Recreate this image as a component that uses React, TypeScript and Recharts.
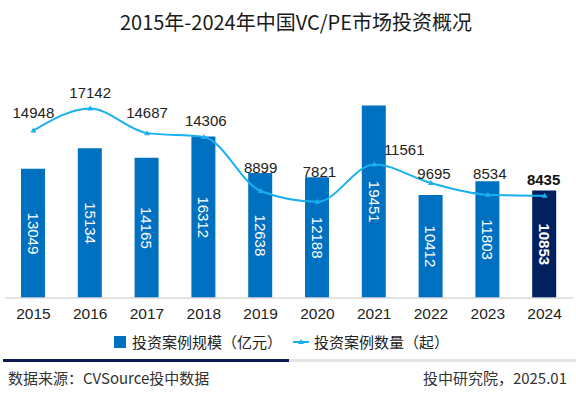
import { Bar, Cell, ComposedChart, LabelList, Legend, Line, XAxis, YAxis } from "recharts";

const years = ["2015", "2016", "2017", "2018", "2019", "2020", "2021", "2022", "2023", "2024"];
const amounts = [13049, 15134, 14165, 16312, 12638, 12188, 19451, 10412, 11803, 10853];
const counts = [14948, 17142, 14687, 14306, 8899, 7821, 11561, 9695, 8534, 8435];

// manual nudges for the count labels [dx, distance above point]
const countLabelShift = [
  [0, 18], [0, 16], [0, 20], [2, 16], [0, 23],
  [2, 30], [30, 15], [3, 9], [2, 21], [-1, 16]
];

const rows = years.map((year, i) => ({ year, amount: amounts[i], count: counts[i] }));

const BAR_BLUE = "#0070C0";
const BAR_NAVY = "#002060";
const LINE_BLUE = "#1AAFEF";
const LAST = years.length - 1;
const NUM_FONT = "'Liberation Sans', Arial, sans-serif";
const CJK_FONT = "'Noto Sans CJK SC', 'Noto Sans', sans-serif";

function BarValueLabel(props: any) {
  const { x, y, width, height, value, index } = props;
  const cx = x + width / 2;
  const cy = y + height / 2;
  return (
    <text
      x={cx}
      y={cy}
      dy="0.35em"
      textAnchor="middle"
      transform={`rotate(90, ${cx}, ${cy})`}
      fill="#fff"
      fontSize={15}
      fontFamily={NUM_FONT}
      fontWeight={index === LAST ? 700 : 400}
    >
      {value}
    </text>
  );
}

function CountLabel(props: any) {
  const { x, y, value, index } = props;
  const [dx, up] = countLabelShift[index] ?? [0, 16];
  return (
    <text
      x={x + dx}
      y={y - up}
      dy="0.35em"
      textAnchor="middle"
      fill={index === LAST ? "#111" : "#222"}
      fontSize={15}
      fontFamily={NUM_FONT}
      fontWeight={index === LAST ? 700 : 400}
    >
      {value}
    </text>
  );
}

function TriangleDot(props: any) {
  const { cx, cy, index } = props;
  return (
    <path
      key={`tri-${index}`}
      d={`M${cx},${cy - 3} L${cx + 3},${cy + 2} L${cx - 3},${cy + 2} Z`}
      fill={LINE_BLUE}
    />
  );
}

function LegendBox() {
  return (
    <div style={{ display: "flex", alignItems: "center", fontFamily: CJK_FONT, fontSize: 15, color: "#222", lineHeight: "22px" }}>
      <span style={{ width: 12, height: 12, background: BAR_BLUE, display: "inline-block", marginRight: 6 }} />
      <span>投资案例规模（亿元）</span>
      <svg width={16} height={10} style={{ marginLeft: 11, marginRight: 5 }}>
        <line x1={0} y1={5} x2={16} y2={5} stroke={LINE_BLUE} strokeWidth={2} />
        <path d="M8,2 L11,7 L5,7 Z" fill={LINE_BLUE} />
      </svg>
      <span>投资案例数量（起）</span>
    </div>
  );
}

export default function App() {
  return (
    <div style={{ position: "absolute", left: 0, top: 0, width: 576, height: 394, background: "#fff", overflow: "hidden" }}>
      <div
        style={{
          position: "absolute",
          top: 9,
          left: 8,
          width: 576,
          textAlign: "center",
          fontFamily: CJK_FONT,
          fontSize: 20,
          lineHeight: "26px",
          color: "#1a1a1a"
        }}
      >
        2015年-2024年中国VC/PE市场投资概况
      </div>

      <ComposedChart width={576} height={394} data={rows} margin={{ top: 100, right: 3, left: 5, bottom: 66 }}>
        <XAxis
          dataKey="year"
          height={30}
          tickLine={false}
          tickSize={0}
          tickMargin={10}
          axisLine={{ stroke: "#D9D9D9", strokeWidth: 1.5 }}
          tick={{ fill: "#222", fontSize: 15.5, fontFamily: NUM_FONT }}
        />
        <YAxis yAxisId="amount" hide domain={[0, 20000]} />
        <YAxis yAxisId="count" hide orientation="right" domain={[-1800, 18000]} />
        <Legend
          layout="horizontal"
          verticalAlign="middle"
          wrapperStyle={{ top: 331, left: 114, width: 360 }}
          content={() => <LegendBox />}
        />
        <Bar yAxisId="amount" dataKey="amount" barSize={24} isAnimationActive={false}>
          {rows.map((r, i) => (
            <Cell key={r.year} fill={i === LAST ? BAR_NAVY : BAR_BLUE} />
          ))}
          <LabelList dataKey="amount" content={BarValueLabel} />
        </Bar>
        <Line
          yAxisId="count"
          type="monotone"
          dataKey="count"
          stroke={LINE_BLUE}
          strokeWidth={2}
          dot={TriangleDot}
          activeDot={false}
          isAnimationActive={false}
        >
          <LabelList dataKey="count" content={CountLabel} />
        </Line>
      </ComposedChart>

      <div style={{ position: "absolute", top: 359, left: 3, width: 286, height: 3, background: "#0E1A52" }} />
      <div style={{ position: "absolute", top: 359, left: 289, width: 287, height: 3, background: "#E4E4E4" }} />
      <div
        style={{ position: "absolute", top: 367, left: 8, fontFamily: CJK_FONT, fontSize: 15, lineHeight: "22px", color: "#333" }}
      >
        数据来源：CVSource投中数据
      </div>
      <div
        style={{ position: "absolute", top: 367, right: 9, fontFamily: CJK_FONT, fontSize: 15, lineHeight: "22px", color: "#333" }}
      >
        投中研究院，2025.01
      </div>
    </div>
  );
}
